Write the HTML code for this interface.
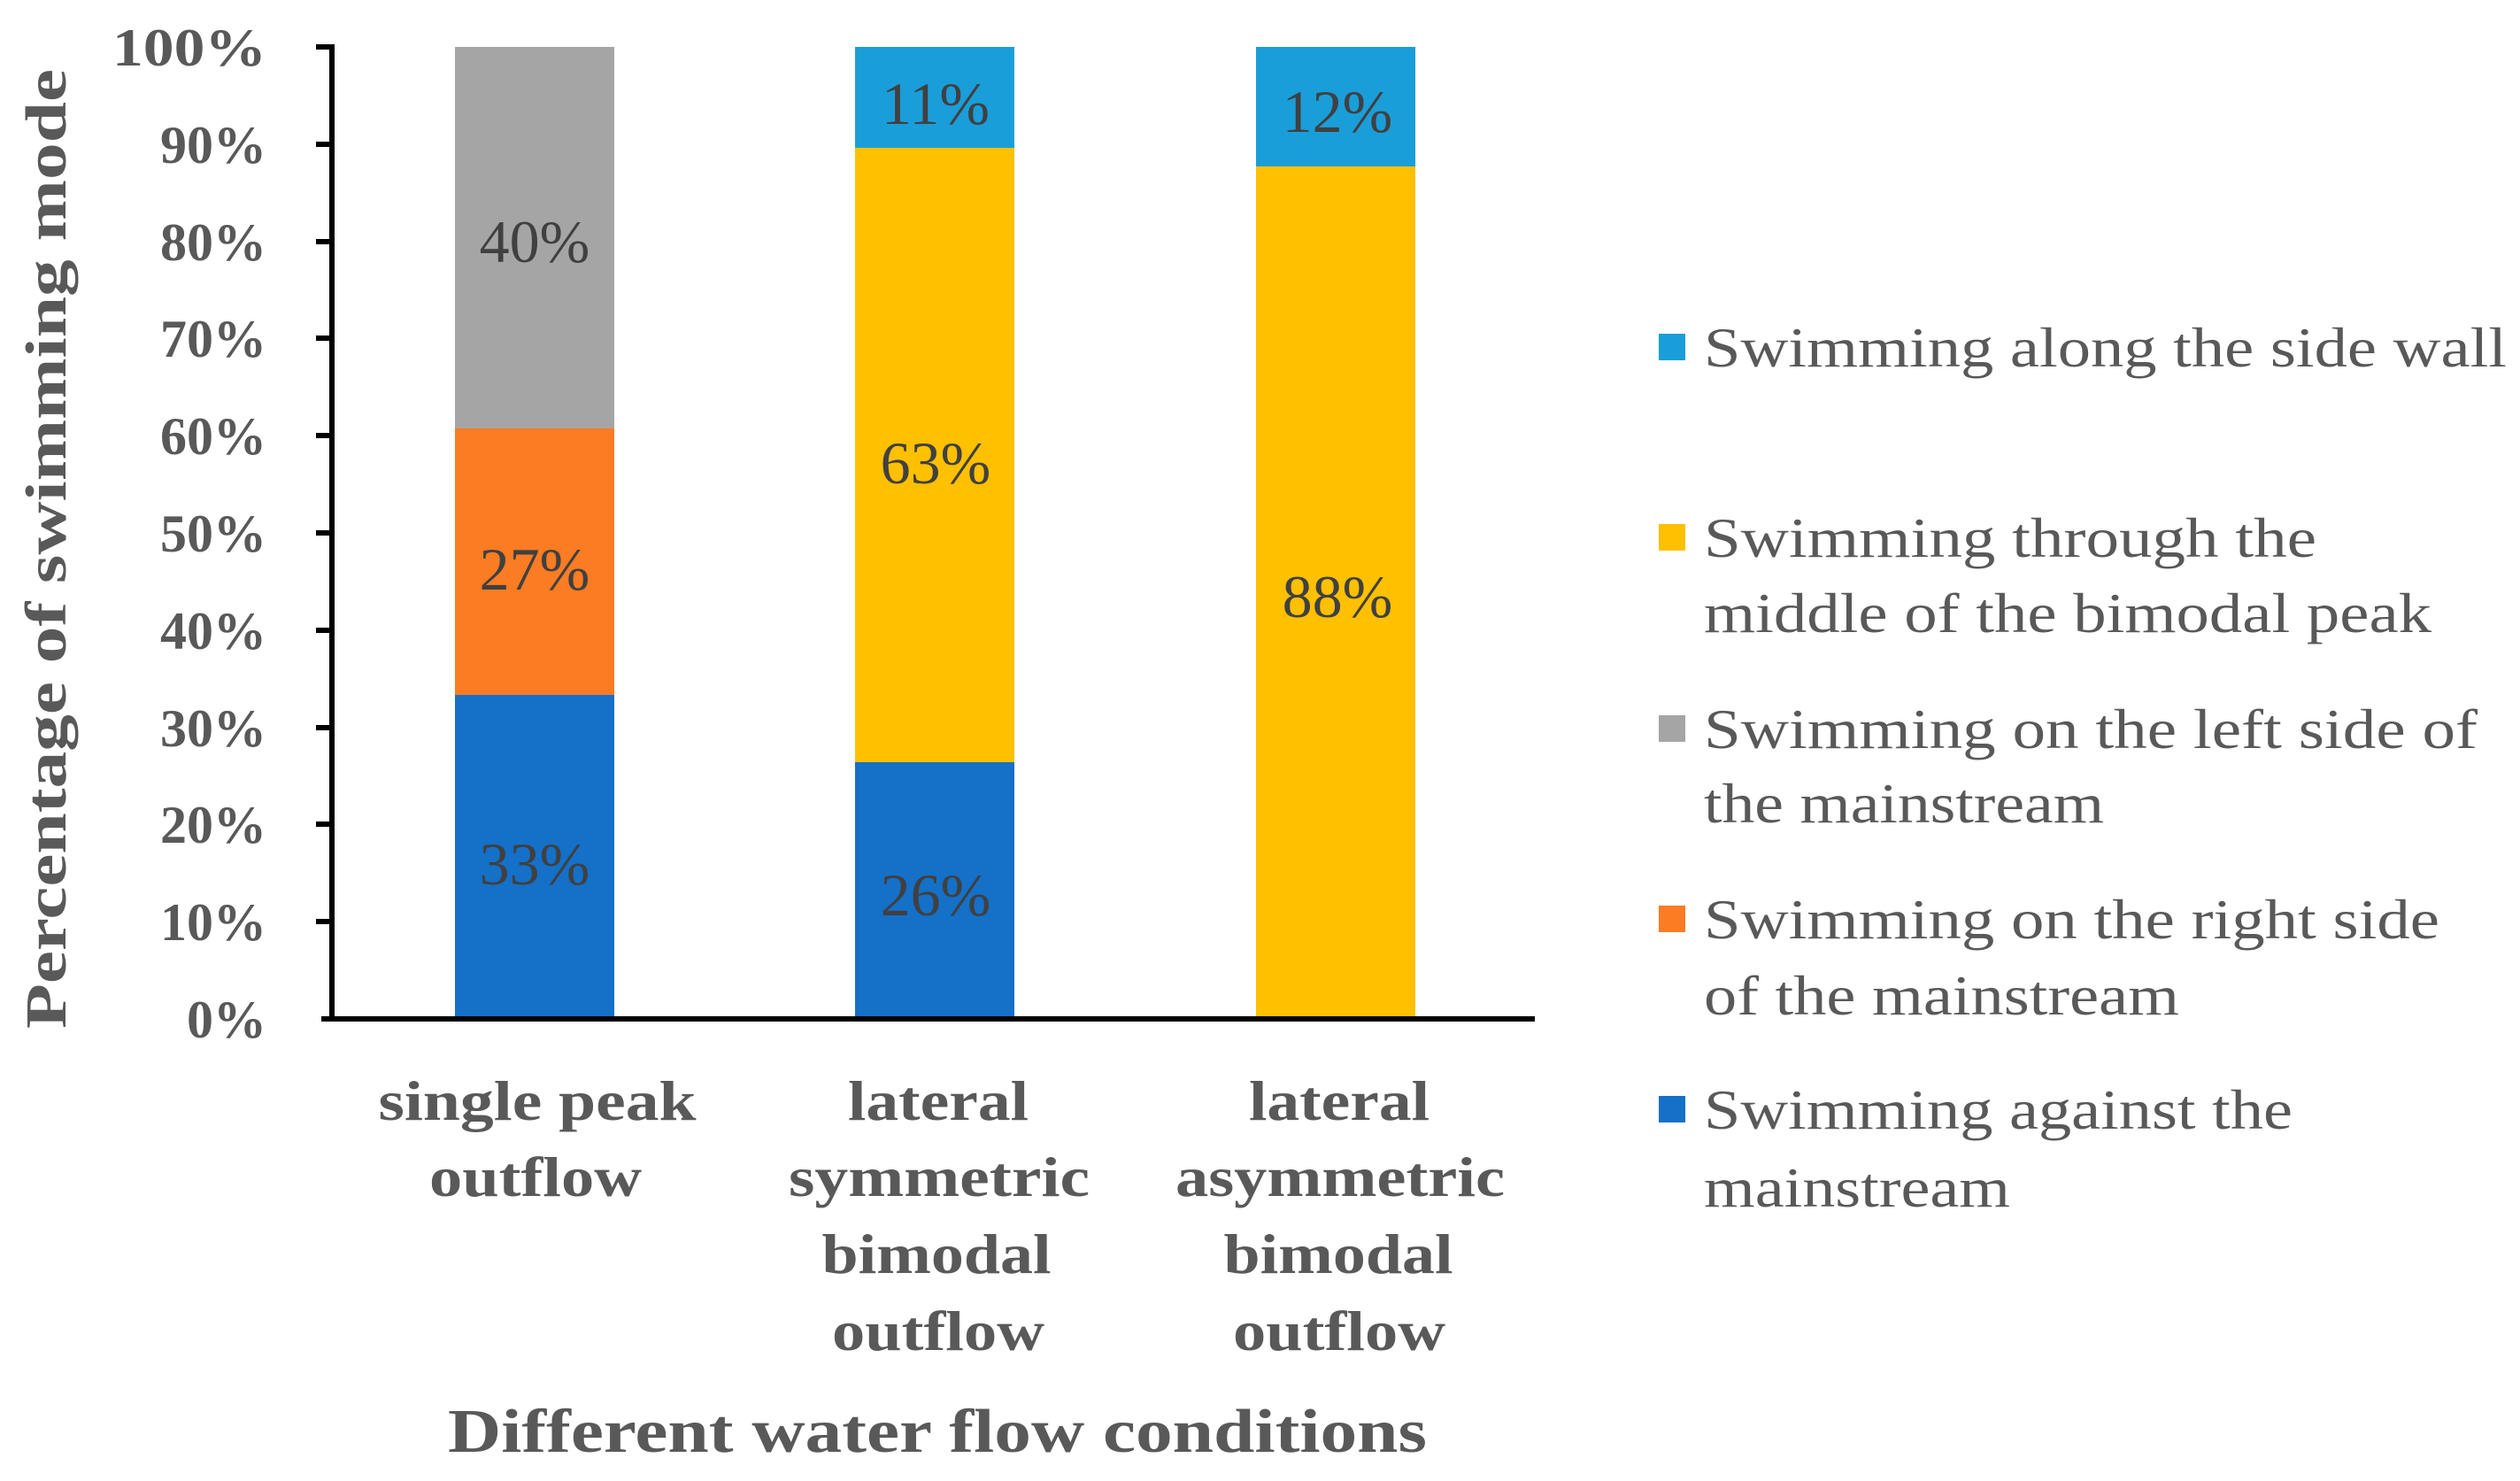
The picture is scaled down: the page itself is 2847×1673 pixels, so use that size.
<!DOCTYPE html>
<html><head><meta charset="utf-8"><style>html,body{margin:0;padding:0;background:#fff}svg{display:block}</style></head>
<body>
<svg width="2847" height="1673" viewBox="0 0 2847 1673" xmlns="http://www.w3.org/2000/svg" font-family="'Liberation Serif', serif">
<rect width="2847" height="1673" fill="#fff"/>
<rect x="514" y="785" width="180" height="366" fill="#1570C8"/>
<rect x="514" y="484" width="180" height="301" fill="#FB7C23"/>
<rect x="514" y="53" width="180" height="431" fill="#A5A5A5"/>
<rect x="966" y="861" width="180" height="290" fill="#1570C8"/>
<rect x="966" y="167" width="180" height="694" fill="#FFC000"/>
<rect x="966" y="53" width="180" height="114" fill="#1A9ED9"/>
<rect x="1419" y="188" width="180" height="963" fill="#FFC000"/>
<rect x="1419" y="53" width="180" height="135" fill="#1A9ED9"/>
<g stroke="#000" stroke-width="6">
<line x1="375" y1="50" x2="375" y2="1154"/>
<line x1="363" y1="1151" x2="1734" y2="1151"/>
<line x1="357" y1="53" x2="375" y2="53"/><line x1="357" y1="163" x2="375" y2="163"/>
<line x1="357" y1="273" x2="375" y2="273"/><line x1="357" y1="382" x2="375" y2="382"/>
<line x1="357" y1="492" x2="375" y2="492"/><line x1="357" y1="602" x2="375" y2="602"/>
<line x1="357" y1="712" x2="375" y2="712"/><line x1="357" y1="822" x2="375" y2="822"/>
<line x1="357" y1="931" x2="375" y2="931"/><line x1="357" y1="1041" x2="375" y2="1041"/>
</g>
<g fill="#595959" font-weight="bold" font-size="60" text-anchor="end">
<text x="301" y="74" textLength="174" lengthAdjust="spacingAndGlyphs">100%</text>
<text x="301" y="184">90%</text><text x="301" y="294">80%</text><text x="301" y="403">70%</text>
<text x="301" y="513">60%</text><text x="301" y="623">50%</text><text x="301" y="733">40%</text>
<text x="301" y="843">30%</text><text x="301" y="952">20%</text><text x="301" y="1062">10%</text>
<text x="301" y="1172">0%</text>
</g>
<text transform="translate(74,620) rotate(-90)" text-anchor="middle" fill="#595959" font-weight="bold" font-size="66" textLength="1084" lengthAdjust="spacingAndGlyphs">Percentage of swimming mode</text>
<g fill="#404040" font-size="68" text-anchor="middle">
<text x="604" y="296">40%</text><text x="604" y="666">27%</text><text x="604" y="999">33%</text>
<text x="1057" y="140">11%</text><text x="1057" y="546">63%</text><text x="1057" y="1034">26%</text>
<text x="1511" y="149">12%</text><text x="1511" y="697">88%</text>
</g>
<g fill="#595959" font-weight="bold" font-size="64" text-anchor="middle">
<text x="607" y="1265" textLength="359" lengthAdjust="spacingAndGlyphs">single peak</text>
<text x="605" y="1351" textLength="240" lengthAdjust="spacingAndGlyphs">outflow</text>
<text x="1060" y="1265" textLength="204" lengthAdjust="spacingAndGlyphs">lateral</text>
<text x="1061" y="1351" textLength="340" lengthAdjust="spacingAndGlyphs">symmetric</text>
<text x="1058" y="1438" textLength="259" lengthAdjust="spacingAndGlyphs">bimodal</text>
<text x="1060" y="1525" textLength="240" lengthAdjust="spacingAndGlyphs">outflow</text>
<text x="1513" y="1265" textLength="204" lengthAdjust="spacingAndGlyphs">lateral</text>
<text x="1514" y="1351" textLength="372" lengthAdjust="spacingAndGlyphs">asymmetric</text>
<text x="1512" y="1438" textLength="259" lengthAdjust="spacingAndGlyphs">bimodal</text>
<text x="1513" y="1525" textLength="240" lengthAdjust="spacingAndGlyphs">outflow</text>
</g>
<text x="1059" y="1640" text-anchor="middle" fill="#595959" font-weight="bold" font-size="70" textLength="1106" lengthAdjust="spacingAndGlyphs">Different water flow conditions</text>
<rect x="1874" y="377" width="30" height="30" fill="#1A9ED9"/>
<rect x="1874" y="592" width="30" height="30" fill="#FFC000"/>
<rect x="1874" y="808" width="30" height="30" fill="#A5A5A5"/>
<rect x="1874" y="1023" width="30" height="30" fill="#FB7C23"/>
<rect x="1874" y="1238" width="30" height="30" fill="#1570C8"/>
<g fill="#595959" font-size="64">
<text x="1925" y="414" textLength="907" lengthAdjust="spacingAndGlyphs">Swimming along the side wall</text>
<text x="1925" y="629" textLength="692" lengthAdjust="spacingAndGlyphs">Swimming through the</text>
<text x="1925" y="714" textLength="822" lengthAdjust="spacingAndGlyphs">middle of the bimodal peak</text>
<text x="1925" y="845" textLength="874" lengthAdjust="spacingAndGlyphs">Swimming on the left side of</text>
<text x="1925" y="929" textLength="452" lengthAdjust="spacingAndGlyphs">the mainstream</text>
<text x="1925" y="1060" textLength="831" lengthAdjust="spacingAndGlyphs">Swimming on the right side</text>
<text x="1925" y="1146" textLength="537" lengthAdjust="spacingAndGlyphs">of the mainstream</text>
<text x="1925" y="1275" textLength="665" lengthAdjust="spacingAndGlyphs">Swimming against the</text>
<text x="1925" y="1363" textLength="346" lengthAdjust="spacingAndGlyphs">mainstream</text>
</g>
</svg>
</body></html>
